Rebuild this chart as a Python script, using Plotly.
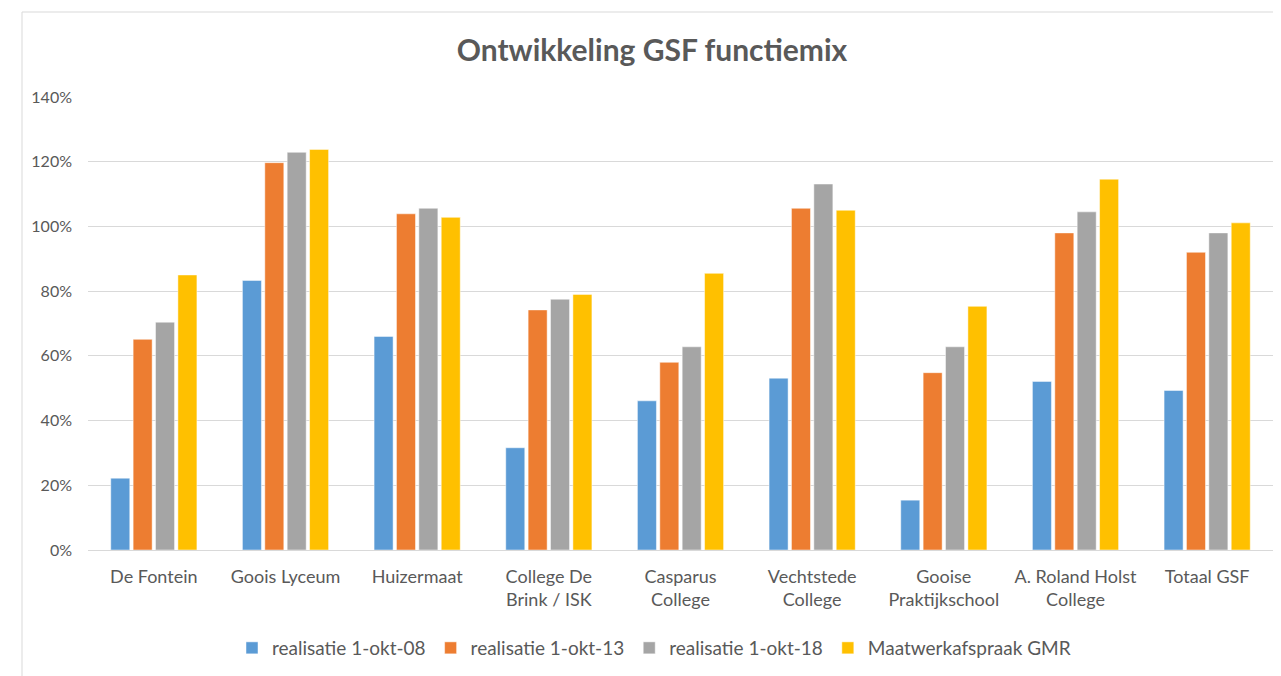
import plotly.graph_objects as go

categories = ["De Fontein", "Goois Lyceum", "Huizermaat", "College De<br>Brink / ISK",
              "Casparus<br>College", "Vechtstede<br>College", "Gooise<br>Praktijkschool",
              "A. Roland Holst<br>College", "Totaal GSF"]
series_names = ["realisatie 1-okt-08", "realisatie 1-okt-13", "realisatie 1-okt-18", "Maatwerkafspraak GMR"]
real_08 = [0.222, 0.833, 0.660, 0.316, 0.461, 0.531, 0.154, 0.521, 0.493]
real_13 = [0.651, 1.197, 1.039, 0.742, 0.580, 1.056, 0.548, 0.980, 0.920]
real_18 = [0.704, 1.229, 1.056, 0.775, 0.628, 1.131, 0.628, 1.045, 0.980]
gmr = [0.850, 1.238, 1.028, 0.790, 0.855, 1.050, 0.753, 1.146, 1.011]
colors = ["#5B9BD5", "#ED7D31", "#A5A5A5", "#FFC000"]

FONT = "Lato"
TXT = "#595959"

fig = go.Figure()
for name, vals, col in zip(series_names, [real_08, real_13, real_18, gmr], colors):
    fig.add_trace(go.Bar(
        x=categories, y=vals, name=name,
        marker=dict(color=col, line=dict(color="rgba(255,255,255,0.8)", width=0.6)),
    ))

# page body has an 8px margin, so the figure is drawn 8px in from the window corner
OFF = 8
W, H = 1281 - OFF, 676 - OFF
L, R, T = 88 - OFF, 8, 97 - OFF
B = H - (550 - OFF)
pw = W - L - R
ph = H - T - B

def px_x(p):
    return (p - OFF - L) / pw

def px_y(p):
    return (H - B - (p - OFF)) / ph

fig.update_layout(
    width=W, height=H,
    margin=dict(l=L, r=R, t=T, b=B),
    paper_bgcolor="white", plot_bgcolor="white",
    font=dict(family=FONT, color=TXT, size=16),
    title=dict(text="<b>Ontwikkeling GSF functiemix</b>", xref="container", x=(652 - OFF) / W,
               xanchor="center", yref="container", y=1 - (50 - OFF) / H, yanchor="middle",
               font=dict(size=30, color=TXT, family=FONT)),
    barmode="group", bargap=0.32, bargroupgap=0.15,
    showlegend=True,
    legend=dict(orientation="h", x=px_x(654), xanchor="center", y=px_y(648), yanchor="middle",
                font=dict(size=19, color=TXT, family=FONT), traceorder="normal"),
    xaxis=dict(showgrid=False, showline=False, ticks="", ticklabelstandoff=14,
               tickfont=dict(size=18, color=TXT)),
    yaxis=dict(range=[0, 1.4], dtick=0.2, tickformat=".0%", showgrid=True,
               gridcolor="#D9D9D9", gridwidth=1, zeroline=True, zerolinecolor="#D9D9D9",
               zerolinewidth=1, showline=False, ticks="", ticklabelstandoff=15,
               tickfont=dict(size=16, color=TXT)),
    shapes=[dict(type="rect", xref="paper", yref="paper",
                 x0=px_x(22), x1=px_x(1281 + 10), y0=px_y(676 + 10), y1=px_y(12),
                 line=dict(color="#D9D9D9", width=1), fillcolor="rgba(0,0,0,0)", layer="below")],
)

fig.write_html("out.html")
